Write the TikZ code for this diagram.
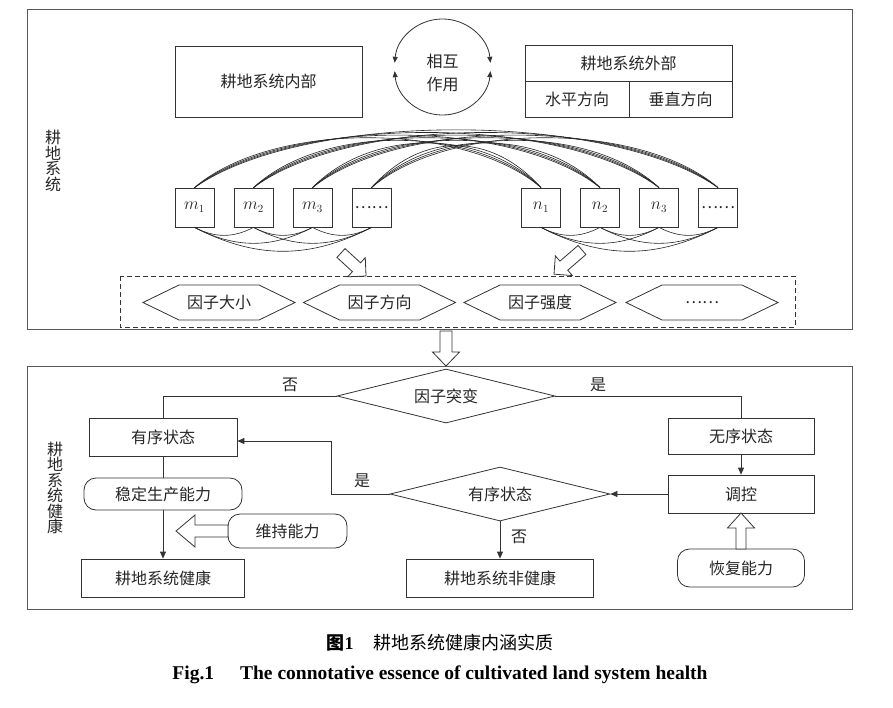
\documentclass[tikz,border=0pt]{standalone}
\usepackage{fontspec}
\setmainfont{Liberation Serif}
\newfontfamily\cjk{Noto Sans CJK SC}
\usetikzlibrary{arrows.meta,shapes.geometric,calc}
\newcommand\blockarrow[7]{%
  \begin{scope}[shift={(#1,#2)},rotate=#3]
    \draw[line,fill=white] (0,-#5) -- ({#4-#7},-#5) -- ({#4-#7},-#6) -- (#4,0) -- ({#4-#7},#6) -- ({#4-#7},#5) -- (0,#5) -- cycle;
  \end{scope}}
\newcommand\hexnode[4]{%
  \node[txt] (#1) at (#2,#3) {#4};
  \draw[line] (#2-76,#3) -- (#2-40,#3-17.5) -- (#2+40,#3-17.5) -- (#2+76,#3) -- (#2+40,#3+17.5) -- (#2-40,#3+17.5) -- cycle;}
\begin{document}
\begin{tikzpicture}[x=1pt,y=-1pt,
  line/.style={draw=black!80, line width=0.8pt},
  thinline/.style={draw=black!85, line width=0.6pt},
  frame/.style={draw=black!65, line width=1pt},
  txt/.style={inner sep=0pt, font=\cjk\fontsize{16}{18}\selectfont, text=black!85},
  box/.style={txt, line, rectangle},
  rbox/.style={box, rounded corners=12pt},
  sq/.style={box, minimum width=39pt, minimum height=39pt},
  dia/.style={txt, line, diamond, aspect=4},
  arr/.style={-{Triangle[length=7pt,width=6pt]}},
  vlab/.style={txt, align=center, font=\cjk\fontsize{16}{15.5}\selectfont}
]
\useasboundingbox (0,0) rectangle (893,707);
\fill[white] (0,0) rectangle (893,707);

% ---------- top frame ----------
\draw[frame] (27,9) rectangle (852,329);
\node[vlab] (labA) at (53,161) {耕\\地\\系\\统};

\node[box, minimum width=187pt, minimum height=71pt] (inner) at (268.5,81.5) {耕地系统内部};

% interaction circle
\coordinate (cc) at (442.5,67);
\draw[line, {Triangle[length=6pt,width=5pt]}-{Triangle[length=6pt,width=5pt]}] (394.7,62.8) arc[start angle=185, end angle=355, radius=48];
\draw[line, {Triangle[length=6pt,width=5pt]}-{Triangle[length=6pt,width=5pt]}] (394.7,71.2) arc[start angle=175, end angle=5, radius=48];
\node[txt] (hu) at (442.5,61) {相互};
\node[txt] (zy) at (442.5,84) {作用};

\node[box, minimum width=207pt, minimum height=36pt] (outer) at (628.5,63) {耕地系统外部};
\node[box, minimum width=104pt, minimum height=36pt] (hor) at (577,99) {水平方向};
\node[box, minimum width=103pt, minimum height=36pt] (ver) at (680.5,99) {垂直方向};

% factor boxes
\node[sq] (m1) at (194.5,207.5) {$m_1$};
\node[sq] (m2) at (253.5,207.5) {$m_2$};
\node[sq] (m3) at (312.5,207.5) {$m_3$};
\node[sq] (m4) at (371.5,207.5) {……};
\node[sq] (n1) at (541,207.5) {$n_1$};
\node[sq] (n2) at (600,207.5) {$n_2$};
\node[sq] (n3) at (659,207.5) {$n_3$};
\node[sq] (n4) at (718,207.5) {……};

\foreach \i in {1,...,4}{\foreach \j in {1,...,4}{
  \pgfmathsetmacro\dd{541+59*(\j-1)-194.5-59*(\i-1)}
  \pgfmathsetmacro\hh{45.9+0.0595*\dd}
  \pgfmathsetmacro\aa{\hh*(0.645+0.0015*\dd)}
  \draw[thinline] (m\i.north) .. controls +(\aa,-\hh) and +(-\aa,-\hh) .. (n\j.north);
}}
\foreach \i/\j in {1/2,1/3,1/4,2/3,2/4,3/4}{
  \pgfmathsetmacro\dd{59*(\j-\i)}
  \draw[thinline] (m\i.south) .. controls +(0.35*\dd,0.18*\dd) and +(-0.35*\dd,0.18*\dd) .. (m\j.south);
  \draw[thinline] (n\i.south) .. controls +(0.35*\dd,0.18*\dd) and +(-0.35*\dd,0.18*\dd) .. (n\j.south);
}

\blockarrow{341}{253}{-42.6}{34}{6}{13}{13}
\blockarrow{582}{250}{-139.2}{37}{6}{13}{13}

% dashed factor box
\draw[line, dashed, dash pattern=on 5pt off 3pt] (120,276) rectangle (795,327);
\hexnode{f1}{219}{302.5}{因子大小}
\hexnode{f2}{379.5}{302.5}{因子方向}
\hexnode{f3}{540}{302.5}{因子强度}
\hexnode{f4}{702}{302.5}{……}

\blockarrow{446}{331}{-90}{35}{6}{13.5}{14}

% ---------- bottom frame ----------
\draw[frame] (27,366) rectangle (852,609);
\node[vlab] (labB) at (55,488) {耕\\地\\系\\统\\健\\康};

\node[dia, minimum width=218pt, minimum height=54pt] (d1) at (446,396) {因子突变};
\node[box, minimum width=148pt, minimum height=38pt] (ord) at (163,437) {有序状态};
\node[rbox, minimum width=158pt, minimum height=32pt] (stab) at (163,494) {稳定生产能力};
\node[rbox, minimum width=119pt, minimum height=34pt] (keep) at (287.5,531) {维持能力};
\node[box, minimum width=163pt, minimum height=38pt] (hl) at (163,578) {耕地系统健康};
\node[box, minimum width=146pt, minimum height=36pt] (dis) at (741,436) {无序状态};
\node[box, minimum width=146pt, minimum height=38pt] (ctl) at (741,494) {调控};
\node[dia, minimum width=220pt, minimum height=54pt] (d2) at (500,494) {有序状态};
\node[box, minimum width=187pt, minimum height=38pt] (uh) at (500,578) {耕地系统非健康};
\node[rbox, minimum width=127pt, minimum height=38pt] (rec) at (741,568) {恢复能力};

\draw[line] (d1.west) -| (ord.north);
\draw[line] (d1.east) -| (dis.north);
\draw[line] (ord.south) -- (stab.north);
\draw[line,arr] (stab.south) -- (hl.north);
\draw[line,arr] (dis.south) -- (ctl.north);
\draw[line,arr] (ctl.west) -- (d2.east);
\draw[line,arr] (d2.west) -- ++(-58,0) |- ($(ord.east)+(0,4)$);
\draw[line,arr] (d2.south) -- (uh.north);

\node[txt] (no1) at (290,385) {否};
\node[txt] (yes1) at (598,385) {是};
\node[txt] (yes2) at (362,481) {是};
\node[txt] (no2) at (519,537) {否};

\blockarrow{228}{531}{180}{52}{6}{16}{19}
\blockarrow{741}{549}{90}{36}{5}{13.5}{15}

% ---------- caption ----------
\node[inner sep=0pt, font=\cjk\fontsize{18}{20}\selectfont, text=black] (cap1) at (440,643) {{\bfseries 图}{\rmfamily\bfseries 1}\hspace{1.1em}耕地系统健康内涵实质};
\node[inner sep=0pt, font=\rmfamily\bfseries\fontsize{19.5}{22}\selectfont, text=black] (cap2) at (440,675) {Fig.1\hspace{26pt}The connotative essence of cultivated land system health};
\end{tikzpicture}
\end{document}
